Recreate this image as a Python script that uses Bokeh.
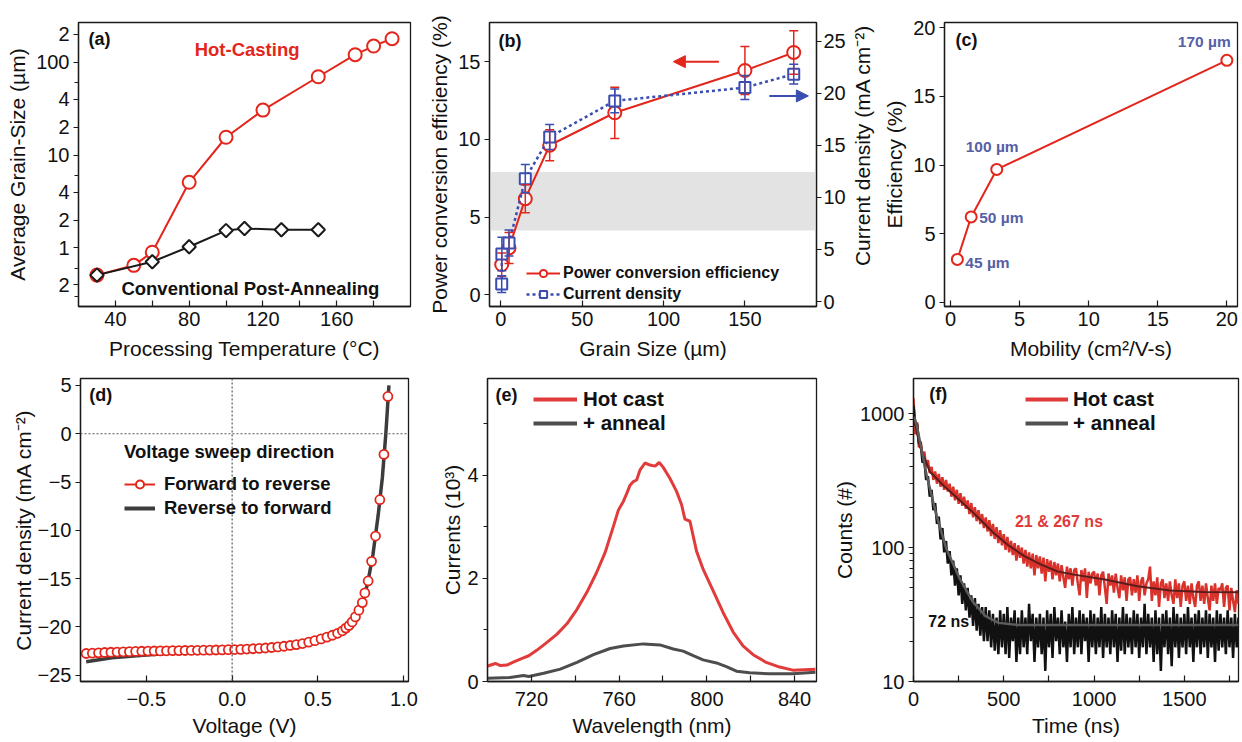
import math
from bokeh.plotting import figure
from bokeh.models import (Range1d, LinearAxis, FixedTicker, Label, Legend, LegendItem,
                          Whisker, TeeHead, Arrow, NormalHead, BoxAnnotation, Span,
                          ColumnDataSource)
from bokeh.core.properties import value
from bokeh.layouts import column, row
from bokeh.embed import file_html
from bokeh.resources import INLINE

FONT = "Liberation Sans"
RED = "#e3261c"
BLUE = "#3a4db0"
DARK = "#1a1a1a"
LABEL_BLUE = "#5660a6"
NAN = float("nan")

# ---------------- (a) grain size vs processing temperature ----------------
temp_hot = [30, 50, 60, 80, 100, 120, 150, 170, 180, 190]
grain_hot = [0.51, 0.65, 0.90, 5.1, 15.6, 30.6, 70, 121, 150, 180]
temp_conv = [30, 60, 80, 100, 110, 130, 150]
grain_conv = [0.51, 0.71, 1.03, 1.54, 1.62, 1.57, 1.57]
a_yticks = [0.4, 1, 2, 4, 10, 20, 40, 100, 200]
a_ytick_labels = ["2", "1", "2", "4", "10", "2", "4", "100", "2"]
a_yminor = [0.3, 0.6, 6, 60]
a_xticks = [40, 80, 120, 160]
a_xminor = [60, 100, 140, 180]

# ---------------- (b) PCE & Jsc vs grain size ----------------
grain_pce = [0.5, 5, 15, 30, 70, 150, 180]
pce = [1.94, 3.01, 6.18, 9.62, 11.71, 14.43, 15.59]
pce_err = [0.75, 1.0, 0.9, 1.0, 1.65, 1.55, 1.4]
grain_jsc = [0.5, 0.6, 5, 15, 30, 70, 150, 180]
jsc = [1.67, 4.56, 5.62, 11.8, 15.8, 19.27, 20.55, 21.84]
jsc_err = [0.8, 1.6, 1.25, 1.35, 1.2, 1.15, 1.15, 0.95]
b_band = [4.13, 7.9]
b_xticks = [0, 50, 100, 150]
b_lticks = [0, 5, 10, 15]
b_rticks = [0, 5, 10, 15, 20, 25]
b_right_title = "Current density (mA cm⁻²)"

# ---------------- (c) efficiency vs mobility ----------------
mobility = [0.5, 1.5, 3.35, 20]
efficiency = [3.12, 6.22, 9.68, 17.63]
c_labels = ["45 µm", "50 µm", "100 µm", "170 µm"]
c_xticks = [0, 5, 10, 15, 20]
c_yticks = [0, 5, 10, 15, 20]

# ---------------- (d) J-V curves ----------------
v_fwd = [-0.850, -0.814, -0.778, -0.742, -0.706, -0.670, -0.634, -0.598, -0.562, -0.526,
         -0.490, -0.454, -0.418, -0.382, -0.346, -0.310, -0.274, -0.238, -0.202, -0.166,
         -0.130, -0.094, -0.058, -0.022, 0.014, 0.050, 0.086, 0.122, 0.158, 0.194,
         0.230, 0.266, 0.302, 0.338, 0.374, 0.410, 0.446, 0.482, 0.518, 0.552,
         0.584, 0.614, 0.642, 0.662, 0.681, 0.699, 0.718, 0.738, 0.758, 0.773,
         0.792, 0.812, 0.835, 0.860, 0.884, 0.907]
j_fwd = [-22.75, -22.72, -22.68, -22.65, -22.62, -22.60, -22.58, -22.56, -22.54, -22.52,
         -22.50, -22.49, -22.48, -22.47, -22.46, -22.45, -22.44, -22.43, -22.42, -22.41,
         -22.40, -22.39, -22.38, -22.36, -22.34, -22.32, -22.29, -22.26, -22.22, -22.18,
         -22.13, -22.07, -22.00, -21.92, -21.83, -21.72, -21.58, -21.42, -21.24, -21.05,
         -20.86, -20.66, -20.40, -20.12, -19.85, -19.48, -18.96, -18.27, -17.48, -16.48,
         -15.24, -13.21, -10.59, -6.83, -2.14, 3.86]
v_rev = [-0.85, -0.7, -0.5, -0.3, -0.1, 0.1, 0.3, 0.45, 0.55, 0.62, 0.68, 0.72, 0.76,
         0.79, 0.82, 0.85, 0.875, 0.895, 0.913]
j_rev = [-23.6, -23.2, -22.9, -22.65, -22.5, -22.35, -22.05, -21.6, -21.1, -20.6, -19.9,
         -19.0, -17.5, -15.4, -12.5, -8.5, -4.5, 0.0, 5.0]
d_xticks = [-0.5, 0, 0.5, 1.0]
d_xtick_labels = ["−0.5", "0.0", "0.5", "1.0"]
d_yticks = [-25, -20, -15, -10, -5, 0, 5]
d_ytick_labels = ["−25", "−20", "−15", "−10", "−5", "0", "5"]

# ---------------- (e) PL spectra ----------------
wl_hot = [700.1, 703.6, 705.9, 708.9, 712.0, 715.8, 718.8, 722.6, 727.1, 731.7, 736.2,
          740.8, 745.3, 749.8, 753.6, 757.4, 759.7, 762.0, 763.5, 765.0, 766.5, 768.0,
          769.5, 771.8, 774.1, 776.4, 778.3, 780.2, 783.2, 786.2, 788.5, 790.0, 792.3,
          795.3, 798.3, 802.9, 807.4, 812.0, 816.5, 821.1, 827.1, 833.2, 839.2, 849.5]
pl_hot = [0.30, 0.35, 0.31, 0.32, 0.38, 0.45, 0.50, 0.61, 0.76, 0.92, 1.12,
          1.40, 1.73, 2.12, 2.50, 3.01, 3.33, 3.50, 3.65, 3.81, 3.88, 3.91,
          4.10, 4.24, 4.20, 4.18, 4.25, 4.15, 3.94, 3.69, 3.43, 3.15, 3.11,
          2.53, 2.18, 1.76, 1.34, 0.96, 0.69, 0.52, 0.37, 0.28, 0.22, 0.24]
wl_ann = [700.1, 710.3, 716.4, 718.8, 725.6, 733.2, 740.8, 748.3, 755.9, 762.0, 771.1,
          778.6, 784.7, 789.2, 793.8, 798.3, 804.4, 808.9, 813.5, 819.5, 828.6, 839.2, 849.5]
pl_ann = [0.064, 0.077, 0.115, 0.096, 0.16, 0.24, 0.37, 0.52, 0.64, 0.69, 0.73,
          0.71, 0.63, 0.59, 0.50, 0.42, 0.36, 0.29, 0.20, 0.17, 0.15, 0.15, 0.18]
e_xticks = [720, 760, 800, 840]
e_xminor = [740, 780, 820]
e_yticks = [0, 2, 4]
e_yminor = [1, 3, 5]

# ---------------- (f) TRPL decays (10 ns sampling) ----------------
time_ns = list(range(0, 1810, 10))
counts_hot = [1300, 700, 860, 560, 620, 470, 520, 400, 450, 360,
              400, 320, 370, 300, 355, 285, 335, 270, 320, 262,
              300, 240, 285, 225, 270, 212, 255, 205, 240, 195,
              225, 178, 215, 168, 200, 158, 190, 150, 178, 140,
              168, 132, 160, 122, 150, 116, 142, 108, 135, 104,
              126, 96, 120, 92, 112, 88, 108, 80, 104, 84,
              100, 76, 96, 72, 92, 70, 90, 62, 88, 70,
              86, 64, 84, 56, 82, 66, 80, 58, 78, 62,
              76, 56, 74, 60, 50, 72, 58, 70, 52, 68,
              70, 54, 44, 68, 56, 70, 42, 66, 54, 64,
              66, 52, 64, 44, 62, 66, 50, 38, 64, 52,
              62, 46, 64, 50, 42, 62, 48, 60, 40, 58,
              60, 44, 58, 46, 62, 40, 56, 60, 44, 54,
              58, 72, 40, 56, 44, 60, 36, 54, 58, 42,
              54, 40, 56, 44, 38, 58, 42, 54, 36, 52,
              56, 40, 52, 38, 54, 42, 36, 52, 56, 40,
              52, 38, 54, 42, 34, 52, 40, 54, 38, 50,
              48, 54, 36, 50, 52, 34, 50, 40, 33, 48,
              38]
counts_ann = [1150, 820, 840, 600, 600, 430, 450, 320, 340, 240,
              270, 190, 215, 150, 170, 115, 140, 92, 112, 76,
              94, 62, 80, 52, 70, 44, 62, 38, 54, 34,
              50, 30, 44, 26, 42, 24, 38, 22, 36, 20,
              36, 20, 34, 18, 32, 17, 30, 16, 34, 18,
              32, 16, 36, 15, 30, 20, 34, 14, 30, 16,
              34, 18, 30, 16, 38, 20, 32, 14, 30, 18,
              32, 16, 30, 12, 34, 18, 32, 15, 36, 20,
              30, 16, 34, 18, 28, 14, 32, 18, 36, 16,
              30, 18, 34, 16, 32, 20, 30, 14, 34, 18,
              32, 16, 30, 18, 36, 15, 32, 18, 30, 16,
              34, 18, 32, 14, 30, 17, 36, 16, 32, 18,
              30, 16, 34, 18, 32, 15, 30, 18, 38, 16,
              32, 18, 30, 14, 34, 16, 30, 12, 32, 18,
              34, 16, 30, 13, 36, 18, 32, 15, 30, 18,
              32, 16, 36, 18, 30, 14, 32, 18, 34, 16,
              30, 18, 34, 15, 32, 18, 30, 14, 34, 17,
              32, 18, 30, 16, 34, 18, 30, 15, 32, 18,
              30]
fit_hot_t = [4, 36, 91, 163, 254, 344, 435, 525, 616, 707, 797, 888, 1060, 1241, 1422, 1603, 1800]
fit_hot_c = [900, 565, 368, 293, 227, 175, 132, 104, 86, 74.5, 66.4, 62.8, 57.7, 51.4, 47.8, 46.5, 46.3]
fit_ann_t = [4, 18, 73, 127, 181, 254, 326, 399, 471, 580, 1800]
fit_ann_c = [950, 819, 347, 175, 99, 59.3, 39.8, 30.8, 27.4, 26.4, 26.4]
f_xticks = [0, 500, 1000, 1500]
f_xminor = [250, 750, 1250, 1750]
f_yticks = [10, 100, 1000]
f_ytick_labels = ["10", "100", "1000"]
f_yminor = [20, 30, 40, 50, 60, 70, 80, 90, 200, 300, 400, 500, 600, 700, 800, 900]


def style_axis(ax, inside, lab_standoff=4, axl_standoff=2):
    ax.axis_line_color = DARK
    ax.axis_line_width = 1.3
    ax.major_tick_line_color = DARK
    ax.minor_tick_line_color = DARK
    ax.major_tick_line_width = 1.2
    ax.minor_tick_line_width = 1.2
    if inside:
        ax.major_tick_in, ax.major_tick_out = 6, 0
        ax.minor_tick_in, ax.minor_tick_out = 6, 0
    else:
        ax.major_tick_in, ax.major_tick_out = 0, 5
        ax.minor_tick_in, ax.minor_tick_out = 0, 4
    ax.major_label_text_font = FONT
    ax.major_label_text_font_size = "20px"
    ax.major_label_text_color = "#111111"
    ax.axis_label_text_font = FONT
    ax.axis_label_text_font_size = "21px"
    ax.axis_label_text_font_style = "normal"
    ax.axis_label_text_color = "#111111"
    ax.major_label_standoff = lab_standoff
    ax.axis_label_standoff = axl_standoff


def make_fig(w, h, xr, yr, borders, y_log=False, xstand=(5, 8), ystand=2):
    l, r, t, b = borders
    p = figure(width=w, height=h, x_range=Range1d(*xr), y_range=Range1d(*yr),
               y_axis_type="log" if y_log else "linear",
               output_backend="svg", toolbar_location=None, tools="",
               min_border_left=l, min_border_right=r, min_border_top=t, min_border_bottom=b)
    p.grid.visible = False
    p.outline_line_color = DARK
    p.outline_line_width = 1.3
    p.outline_line_alpha = 1
    style_axis(p.xaxis[0], True, xstand[0], xstand[1])
    style_axis(p.yaxis[0], False, 4, ystand)
    return p


def add_label(p, x, y, text, size="18px", color="#111111", align="left", style="bold",
              y_range_name="default", xo=0, yo=0):
    p.add_layout(Label(x=x, y=y, text=text, text_font=FONT, text_font_size=size,
                       text_font_style=style, text_color=color, text_align=align,
                       text_baseline="middle", y_range_name=y_range_name,
                       x_offset=xo, y_offset=yo))


def style_legend(leg, size, gw, gh, standoff, spacing):
    leg.background_fill_alpha = 0
    leg.border_line_alpha = 0
    leg.padding = 0
    leg.margin = 0
    leg.spacing = spacing
    leg.glyph_width = gw
    leg.glyph_height = gh
    leg.label_height = gh
    leg.label_standoff = standoff
    leg.label_text_font = FONT
    leg.label_text_font_style = "bold"
    leg.label_text_font_size = size
    leg.label_text_color = "#111111"
    leg.label_text_baseline = "middle"


# ======== (a) ========
pa = make_fig(425, 370, (20, 200), (0.234, 269), (78, 15, 22, 64), y_log=True, ystand=4)
pa.xaxis.axis_label = "Processing Temperature (°C)"
pa.yaxis.axis_label = "Average Grain-Size (µm)"
pa.xaxis.ticker = FixedTicker(ticks=a_xticks, minor_ticks=a_xminor)
pa.yaxis.ticker = FixedTicker(ticks=a_yticks, minor_ticks=a_yminor)
pa.yaxis.major_label_overrides = {float(k): v for k, v in zip(a_yticks, a_ytick_labels)}
pa.line(temp_hot, grain_hot, line_color=RED, line_width=2)
pa.scatter(temp_hot, grain_hot, marker="circle", size=13, fill_color="white",
           line_color=RED, line_width=2)
pa.line(temp_conv, grain_conv, line_color=DARK, line_width=2)
pa.scatter(temp_conv, grain_conv, marker="square", angle=math.pi / 4, size=9.5,
           fill_color="white", line_color=DARK, line_width=2)
add_label(pa, 25.4, 177, "(a)")
add_label(pa, 111.4, 138, "Hot-Casting", size="18.5px", color=RED, align="center")
add_label(pa, 113.2, 0.367, "Conventional Post-Annealing", size="18.5px", align="center")

# ======== (b) ========
pb = make_fig(423, 370, (-7, 194), (-0.76, 17.52), (61, 32, 22, 64), ystand=4)
pb.extra_y_ranges = {"jsc": Range1d(-0.48, 26.8)}
pb.xaxis.axis_label = "Grain Size (µm)"
pb.yaxis.axis_label = "Power conversion efficiency (%)"
pb.xaxis.ticker = FixedTicker(ticks=b_xticks)
pb.yaxis.ticker = FixedTicker(ticks=b_lticks)
ax_r = LinearAxis(y_range_name="jsc")
style_axis(ax_r, False, 2, 8)
ax_r.ticker = FixedTicker(ticks=b_rticks)
pb.add_layout(ax_r, "right")
pb.add_layout(BoxAnnotation(bottom=b_band[0], top=b_band[1], fill_color="#e3e3e3",
                            fill_alpha=1, line_alpha=0, level="underlay"))
src_pce = ColumnDataSource(dict(x=grain_pce, y=pce,
                                lo=[v - e for v, e in zip(pce, pce_err)],
                                up=[v + e for v, e in zip(pce, pce_err)]))
src_jsc = ColumnDataSource(dict(x=grain_jsc, y=jsc,
                                lo=[v - e for v, e in zip(jsc, jsc_err)],
                                up=[v + e for v, e in zip(jsc, jsc_err)]))
pb.add_layout(Whisker(source=src_pce, base="x", lower="lo", upper="up", line_color=RED,
                      line_width=1.5, level="glyph",
                      upper_head=TeeHead(size=9, line_color=RED, line_width=1.5),
                      lower_head=TeeHead(size=9, line_color=RED, line_width=1.5)))
r_pl = pb.line("x", "y", source=src_pce, line_color=RED, line_width=2)
r_pp = pb.scatter("x", "y", source=src_pce, marker="circle", size=13, fill_color="white",
                  line_color=RED, line_width=2)
pb.add_layout(Whisker(source=src_jsc, base="x", lower="lo", upper="up", line_color=BLUE,
                      line_width=1.5, level="glyph", y_range_name="jsc",
                      upper_head=TeeHead(size=9, line_color=BLUE, line_width=1.5),
                      lower_head=TeeHead(size=9, line_color=BLUE, line_width=1.5)))
r_jl = pb.line("x", "y", source=src_jsc, line_color=BLUE, line_width=2.5, line_dash="3 3",
               y_range_name="jsc")
r_jp = pb.scatter("x", "y", source=src_jsc, marker="square", size=11, fill_color="white",
                  line_color=BLUE, line_width=2, y_range_name="jsc")
pb.add_layout(Arrow(end=NormalHead(size=12, fill_color=RED, line_color=RED, line_width=1),
                    x_start=134, y_start=15, x_end=106, y_end=15, line_color=RED, line_width=2))
pb.add_layout(Arrow(end=NormalHead(size=12, fill_color=BLUE, line_color=BLUE, line_width=1),
                    x_start=165, y_start=19.75, x_end=189, y_end=19.75, line_color=BLUE,
                    line_width=2, y_range_name="jsc"))
leg_b = Legend(items=[LegendItem(label="Power conversion efficiency", renderers=[r_pl, r_pp]),
                      LegendItem(label="Current density", renderers=[r_jl, r_jp])],
               location=(37, 3))
style_legend(leg_b, "16px", 34, 18, 3, 3)
pb.add_layout(leg_b)
add_label(pb, -1.4, 16.36, "(b)")

# narrow strip that carries the right-axis title of (b), reading bottom-to-top
pbt = figure(width=32, height=370, x_range=Range1d(0, 32), y_range=Range1d(0, 370),
             output_backend="svg", toolbar_location=None, tools="",
             x_axis_location=None, y_axis_location=None,
             min_border_left=0, min_border_right=0, min_border_top=0, min_border_bottom=0)
pbt.grid.visible = False
pbt.outline_line_color = None
pbt.text(x=[14], y=[210], text=[b_right_title], angle=math.pi / 2,
         text_font=value(FONT), text_font_size="21px", text_color="#111111",
         text_align="center", text_baseline="middle")

# ======== (c) ========
pc = make_fig(360, 370, (-0.43, 20.77), (-0.31, 20.39), (59, 3, 22, 64), ystand=4)
pc.xaxis.axis_label = "Mobility (cm²/V-s)"
pc.yaxis.axis_label = "Efficiency (%)"
pc.xaxis.ticker = FixedTicker(ticks=c_xticks)
pc.yaxis.ticker = FixedTicker(ticks=c_yticks)
pc.line(mobility, efficiency, line_color=RED, line_width=2)
pc.scatter(mobility, efficiency, marker="circle", size=11, fill_color="white",
           line_color=RED, line_width=2)
c_dx = [8, 8, -31, -49]
c_dy = [-3, -1, 23, 19]
for mx, ey, txt, dx, dy in zip(mobility, efficiency, c_labels, c_dx, c_dy):
    add_label(pc, mx, ey, txt, size="15.5px", color=LABEL_BLUE, xo=dx, yo=dy)
add_label(pc, 0.36, 19.14, "(c)")

# ======== (d) ========
pdv = make_fig(425, 372, (-0.883, 1.027), (-25.65, 5.72), (80, 17, 8, 61),
               xstand=(10, 5), ystand=0)
pdv.xaxis.axis_label = "Voltage (V)"
pdv.yaxis.axis_label = "Current density (mA cm⁻²)"
pdv.xaxis.ticker = FixedTicker(ticks=d_xticks)
pdv.yaxis.ticker = FixedTicker(ticks=d_yticks)
pdv.xaxis.major_label_overrides = {float(k): v for k, v in zip(d_xticks, d_xtick_labels)}
pdv.yaxis.major_label_overrides = {float(k): v for k, v in zip(d_yticks, d_ytick_labels)}
pdv.add_layout(Span(location=0, dimension="height", line_color="#555555", line_dash="2 2",
                    line_width=1.2))
pdv.add_layout(Span(location=0, dimension="width", line_color="#555555", line_dash="2 2",
                    line_width=1.2))
pdv.line(v_rev, j_rev, line_color="#3c3c3c", line_width=3.5)
pdv.scatter(v_fwd, j_fwd, marker="circle", size=9, fill_color="white", line_color=RED,
            line_width=1.8)
lg1 = pdv.line([NAN], [NAN], line_color=RED, line_width=2)
lg2 = pdv.scatter([NAN], [NAN], marker="circle", size=11, fill_color="white",
                  line_color=RED, line_width=2)
lg3 = pdv.line([NAN], [NAN], line_color="#3c3c3c", line_width=4)
leg_d = Legend(items=[LegendItem(label="Forward to reverse", renderers=[lg1, lg2]),
                      LegendItem(label="Reverse to forward", renderers=[lg3])],
               location=(44, 162), title="Voltage sweep direction")
style_legend(leg_d, "18.5px", 31, 20, 9, 2)
leg_d.title_text_font = FONT
leg_d.title_text_font_style = "bold"
leg_d.title_text_font_size = "18.5px"
leg_d.title_text_color = "#111111"
leg_d.title_standoff = 10
pdv.add_layout(leg_d)
add_label(pdv, -0.832, 3.96, "(d)")

# ======== (e) ========
pe = make_fig(405, 372, (700, 850), (0, 5.88), (62, 14, 8, 61), xstand=(10, 5), ystand=0)
pe.xaxis.axis_label = "Wavelength (nm)"
pe.yaxis.axis_label = "Currents (10³)"
pe.xaxis.ticker = FixedTicker(ticks=e_xticks, minor_ticks=e_xminor)
pe.yaxis.ticker = FixedTicker(ticks=e_yticks, minor_ticks=e_yminor)
pe.line(wl_ann, pl_ann, line_color="#4d4d4d", line_width=3)
pe.line(wl_hot, pl_hot, line_color="#e23b3b", line_width=3)
le1 = pe.line([NAN], [NAN], line_color="#e23b3b", line_width=4)
le2 = pe.line([NAN], [NAN], line_color="#4d4d4d", line_width=4)
leg_e = Legend(items=[LegendItem(label="Hot cast", renderers=[le1]),
                      LegendItem(label="+ anneal", renderers=[le2])],
               location=(46, 246))
style_legend(leg_e, "20.5px", 44, 18, 6, 0)
pe.add_layout(leg_e)
add_label(pe, 703.6, 5.56, "(e)")

# ======== (f) ========
pf = make_fig(410, 372, (0, 1800), (10, 1830), (78, 2, 8, 61), y_log=True,
              xstand=(10, 5), ystand=1)
pf.xaxis.axis_label = "Time (ns)"
pf.yaxis.axis_label = "Counts (#)"
pf.xaxis.ticker = FixedTicker(ticks=f_xticks, minor_ticks=f_xminor)
pf.yaxis.ticker = FixedTicker(ticks=f_yticks, minor_ticks=f_yminor)
pf.yaxis.major_label_overrides = {float(k): v for k, v in zip(f_yticks, f_ytick_labels)}
pf.line(time_ns, counts_hot, line_color="#d9322b", line_width=2.5)
pf.line(time_ns, counts_ann, line_color="#111111", line_width=2.5)
pf.line(fit_hot_t, fit_hot_c, line_color="#5a1d1d", line_width=2)
pf.line(fit_ann_t, fit_ann_c, line_color="#5c5c5c", line_width=2.5)
lf1 = pf.line([NAN], [NAN], line_color="#e03a3a", line_width=4)
lf2 = pf.line([NAN], [NAN], line_color="#505050", line_width=4)
leg_f = Legend(items=[LegendItem(label="Hot cast", renderers=[lf1]),
                      LegendItem(label="+ anneal", renderers=[lf2])],
               location=(112, 246))
style_legend(leg_f, "20.5px", 43, 18, 5, 0)
pf.add_layout(leg_f)
add_label(pf, 87, 1391, "(f)")
add_label(pf, 562, 156, "21 & 267 ns", size="16px", color="#e03a3a")
add_label(pf, 82, 27.9, "72 ns", size="16px")

layout = column(row(pa, pb, pbt, pc), row(pdv, pe, pf))
open("out.html", "w").write(file_html(layout, INLINE))
